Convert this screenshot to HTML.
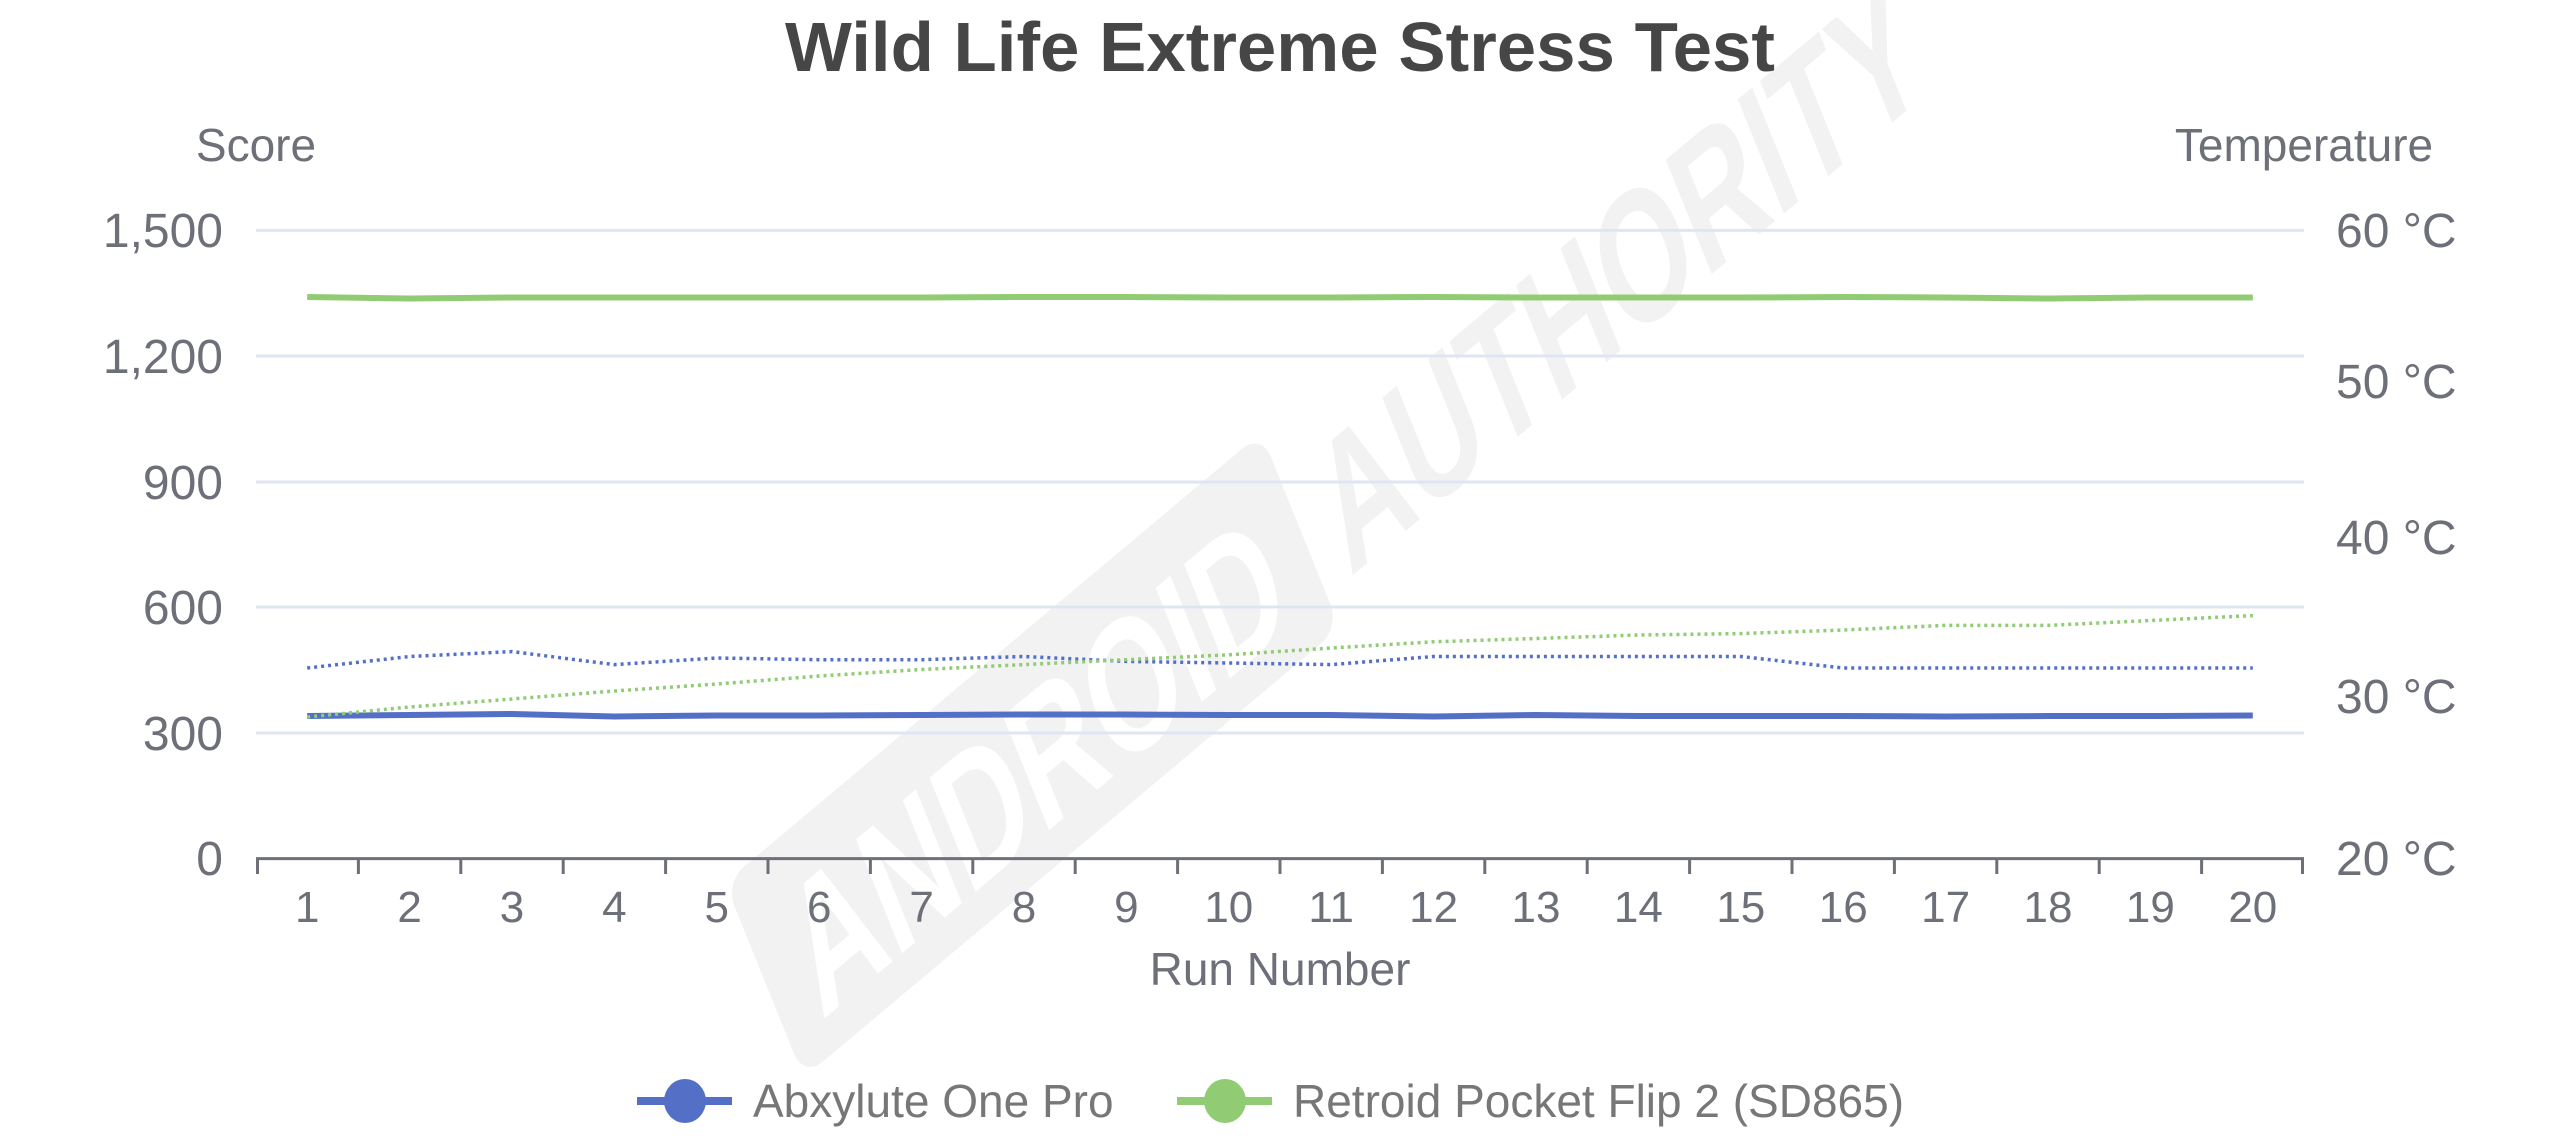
<!DOCTYPE html>
<html><head><meta charset="utf-8"><style>
html,body{margin:0;padding:0;background:#fff;}
svg{display:block;}
text{font-family:"Liberation Sans",sans-serif;}
</style></head><body>
<svg width="2560" height="1143" viewBox="0 0 2560 1143" xmlns="http://www.w3.org/2000/svg">
<rect width="2560" height="1143" fill="#fff"/>
<!-- watermark -->
<g transform="translate(1090,720) rotate(-40) skewX(-18)">
  <rect x="-420" y="-110" width="700" height="200" rx="24" fill="#f2f2f2"/>
  <text x="-70" y="58" font-size="170" font-weight="bold" fill="#ffffff" text-anchor="middle" textLength="620" lengthAdjust="spacingAndGlyphs">ANDROID</text>
  <text x="310" y="58" font-size="170" font-weight="bold" fill="#f2f2f2" textLength="760" lengthAdjust="spacingAndGlyphs">AUTHORITY</text>
</g>
<!-- grid -->
<g stroke="#e0e6f1" stroke-width="3">
  <line x1="256" y1="230.4" x2="2304" y2="230.4"/>
  <line x1="256" y1="356" x2="2304" y2="356"/>
  <line x1="256" y1="482" x2="2304" y2="482"/>
  <line x1="256" y1="607" x2="2304" y2="607"/>
  <line x1="256" y1="733" x2="2304" y2="733"/>
</g>
<!-- x axis -->
<g stroke="#6e7079" stroke-width="3">
  <line x1="256" y1="858.6" x2="2304" y2="858.6"/>
  <line x1="257.5" y1="858" x2="257.5" y2="874"/><line x1="358.4" y1="858" x2="358.4" y2="874"/><line x1="460.8" y1="858" x2="460.8" y2="874"/><line x1="563.2" y1="858" x2="563.2" y2="874"/><line x1="665.6" y1="858" x2="665.6" y2="874"/><line x1="768" y1="858" x2="768" y2="874"/><line x1="870.4" y1="858" x2="870.4" y2="874"/><line x1="972.8" y1="858" x2="972.8" y2="874"/><line x1="1075.2" y1="858" x2="1075.2" y2="874"/><line x1="1177.6" y1="858" x2="1177.6" y2="874"/><line x1="1280" y1="858" x2="1280" y2="874"/><line x1="1382.4" y1="858" x2="1382.4" y2="874"/><line x1="1484.8" y1="858" x2="1484.8" y2="874"/><line x1="1587.2" y1="858" x2="1587.2" y2="874"/><line x1="1689.6" y1="858" x2="1689.6" y2="874"/><line x1="1792" y1="858" x2="1792" y2="874"/><line x1="1894.4" y1="858" x2="1894.4" y2="874"/><line x1="1996.8" y1="858" x2="1996.8" y2="874"/><line x1="2099.2" y1="858" x2="2099.2" y2="874"/><line x1="2201.6" y1="858" x2="2201.6" y2="874"/><line x1="2302.5" y1="858" x2="2302.5" y2="874"/>
</g>
<!-- title -->
<text x="1280" y="71" font-size="70" font-weight="bold" fill="#464646" text-anchor="middle" textLength="990" lengthAdjust="spacingAndGlyphs">Wild Life Extreme Stress Test</text>
<!-- axis names -->
<g fill="#6e7079" font-size="46">
  <text x="256" y="161" text-anchor="middle">Score</text>
  <text x="2304" y="161" text-anchor="middle">Temperature</text>
  <text x="1280" y="985" text-anchor="middle">Run Number</text>
</g>
<!-- left labels -->
<g fill="#6e7079" font-size="48" text-anchor="end">
  <text x="223" y="247">1,500</text>
  <text x="223" y="373">1,200</text>
  <text x="223" y="499">900</text>
  <text x="223" y="624">600</text>
  <text x="223" y="750">300</text>
  <text x="223" y="875">0</text>
</g>
<!-- right labels -->
<g fill="#6e7079" font-size="48">
  <text x="2336" y="247">60 °C</text>
  <text x="2336" y="398">50 °C</text>
  <text x="2336" y="554">40 °C</text>
  <text x="2336" y="713">30 °C</text>
  <text x="2336" y="875">20 °C</text>
</g>
<!-- x labels -->
<g fill="#6e7079" font-size="44" text-anchor="middle">
  <text x="307.2" y="922">1</text><text x="409.6" y="922">2</text><text x="512" y="922">3</text><text x="614.4" y="922">4</text><text x="716.8" y="922">5</text><text x="819.2" y="922">6</text><text x="921.6" y="922">7</text><text x="1024" y="922">8</text><text x="1126.4" y="922">9</text><text x="1228.8" y="922">10</text><text x="1331.2" y="922">11</text><text x="1433.6" y="922">12</text><text x="1536" y="922">13</text><text x="1638.4" y="922">14</text><text x="1740.8" y="922">15</text><text x="1843.2" y="922">16</text><text x="1945.6" y="922">17</text><text x="2048" y="922">18</text><text x="2150.4" y="922">19</text><text x="2252.8" y="922">20</text>
</g>
<!-- series -->
<g fill="none" stroke-linejoin="round">
  <polyline stroke="#91cc75" stroke-width="6" points="307.2,297 409.6,298.5 512,297.5 614.4,297.5 716.8,297.5 819.2,297.5 921.6,297.5 1024,297 1126.4,297 1228.8,297.5 1331.2,297.5 1433.6,297 1536,297.5 1638.4,297.5 1740.8,297.5 1843.2,297 1945.6,297.5 2048,298.5 2150.4,297.5 2252.8,297.5"/>
  <polyline stroke="#5470c6" stroke-width="6" points="307.2,716 409.6,715 512,714 614.4,716.5 716.8,715.5 819.2,715.5 921.6,715 1024,714.5 1126.4,714.5 1228.8,715 1331.2,715 1433.6,716.5 1536,715 1638.4,716 1740.8,716 1843.2,716 1945.6,716.5 2048,716 2150.4,716 2252.8,715.5"/>
  <polyline stroke="#5470c6" stroke-width="3.5" stroke-dasharray="3 4" points="307.2,668 409.6,656.5 512,651.6 614.4,664.6 716.8,658 819.2,659.7 921.6,659.7 1024,656.5 1126.4,661.4 1228.8,663 1331.2,664.6 1433.6,656.5 1536,656.5 1638.4,656.5 1740.8,656.5 1843.2,668 1945.6,668 2048,668 2150.4,668 2252.8,668"/>
  <polyline stroke="#91cc75" stroke-width="3.5" stroke-dasharray="3 4" points="307.2,717 409.6,707 512,699 614.4,691 716.8,684 819.2,676 921.6,669.5 1024,664.6 1126.4,659.7 1228.8,654.8 1331.2,648 1433.6,641.8 1536,638.5 1638.4,635 1740.8,633.6 1843.2,630 1945.6,625.4 2048,625.4 2150.4,620.5 2252.8,615.6"/>
</g>
<!-- legend -->
<line x1="637" y1="1101" x2="732" y2="1101" stroke="#5470c6" stroke-width="8"/>
<ellipse cx="685" cy="1101" rx="21" ry="22" fill="#5470c6"/>
<text x="753" y="1117" font-size="46" fill="#777">Abxylute One Pro</text>
<line x1="1177" y1="1101" x2="1272" y2="1101" stroke="#91cc75" stroke-width="8"/>
<ellipse cx="1225" cy="1101" rx="21" ry="22" fill="#91cc75"/>
<text x="1293" y="1117" font-size="46" fill="#777">Retroid Pocket Flip 2 (SD865)</text>
</svg>
</body></html>
